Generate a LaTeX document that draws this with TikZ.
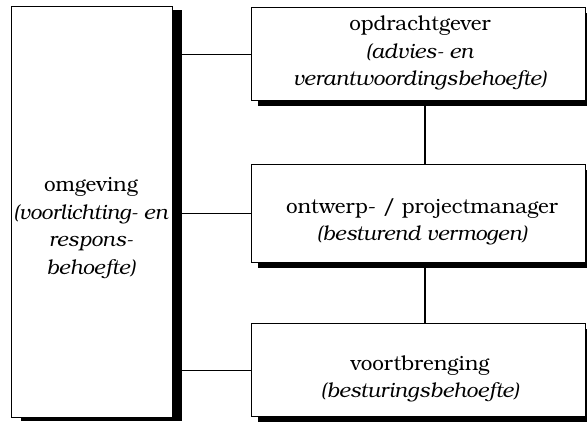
\documentclass[tikz,border=0pt]{standalone}
\usepackage{fontspec}
\setmainfont{TeX Gyre Bonum}
\usetikzlibrary{shadows}
\begin{document}
\begin{tikzpicture}[x=1pt,y=-1pt,
  box/.style={draw=black, line width=1.4pt, fill=white, inner sep=0pt, anchor=north west},
  lshadow/.style={drop shadow={shadow xshift=9pt, shadow yshift=-3pt, fill=black, opacity=1}},
  rshadow/.style={drop shadow={shadow xshift=6pt, shadow yshift=-5pt, fill=black, opacity=1}},
  lbl/.style={align=center, inner sep=0pt, font=\fontsize{20.6}{27.5}\selectfont},
  link/.style={draw=black, line width=1.4pt}]
\useasboundingbox (0,0) rectangle (587,421);

% the four blocks
\node[box, lshadow, minimum width=161pt, minimum height=411pt] (env) at (11,6) {};
\node[box, rshadow, minimum width=334pt, minimum height=93pt]  (client) at (251,7) {};
\node[box, rshadow, minimum width=334pt, minimum height=98pt]  (pm) at (251,164) {};
\node[box, rshadow, minimum width=334pt, minimum height=93pt]  (prod) at (251,323) {};

% block texts
\node[lbl] (envtxt) at (91,228) {omgeving\\\textit{(voorlichting- en}\\\textit{respons-}\\\textit{behoefte)}};
\node[lbl] (clienttxt) at (420,53) {opdrachtgever\\\textit{(advies- en}\\\textit{verantwoordingsbehoefte)}};
\node[lbl] (pmtxt) at (422,222) {ontwerp- / projectmanager\\\textit{(besturend vermogen)}};
\node[lbl] (prodtxt) at (420,379) {voortbrenging\\\textit{(besturingsbehoefte)}};

% connectors
\coordinate (spine) at (425,0);
\draw[link] (client.west) -- (client.west -| env.east);
\draw[link] (pm.west) -- (pm.west -| env.east);
\draw[link] (prod.west) -- (prod.west -| env.east);
\draw[link] (client.south -| spine) -- (pm.north -| spine);
\draw[link] (pm.south -| spine) -- (prod.north -| spine);
\end{tikzpicture}
\end{document}
